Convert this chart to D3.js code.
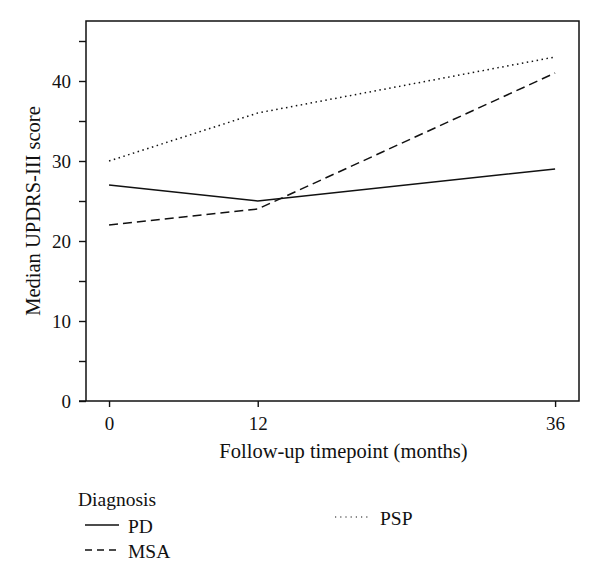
<!DOCTYPE html>
<html><head><meta charset="utf-8">
<script src="https://cdn.jsdelivr.net/npm/d3@7"></script>
<style>body{margin:0;background:#fff}svg{display:block}text{font-family:"Liberation Serif","DejaVu Serif",serif;fill:#111}</style>
</head><body>
<svg id="c" width="600" height="584"></svg>
<script>
const months = [0, 12, 36];
const pd = [27, 25, 29];
const msa = [22, 24, 41];
const psp = [30, 36, 43];
const seriesNames = ["PD", "MSA", "PSP"];
const yTicks = [0, 5, 10, 15, 20, 25, 30, 35, 40, 45];
const yLabels = [0, 10, 20, 30, 40];

const svg = d3.select("#c");
const L = 86, R = 579, T = 21, B = 401;
const x = d3.scaleLinear().domain([-1.86, 37.93]).range([L, R]);
const y = d3.scaleLinear().domain([0, 47.5]).range([B, T]);
const FF = '"Liberation Serif","DejaVu Serif",serif';

// frame
svg.append("rect").attr("x", L).attr("y", T).attr("width", R - L).attr("height", B - T)
  .attr("fill", "none").attr("stroke", "#111").attr("stroke-width", 1.5);

const ya = svg.append("g").attr("transform", `translate(${L},0)`)
  .call(d3.axisLeft(y).tickValues(yTicks).tickSize(7).tickPadding(8)
    .tickFormat(d => yLabels.includes(d) ? d : ""));
const xa = svg.append("g").attr("transform", `translate(0,${B})`)
  .call(d3.axisBottom(x).tickValues(months).tickSize(6).tickPadding(10));
[ya, xa].forEach(g => {
  g.attr("font-family", FF).attr("font-size", 19);
  g.select(".domain").remove();
  g.selectAll("line").attr("stroke", "#111").attr("stroke-width", 1.4);
  g.selectAll("text").style("font-size", "19px").style("font-family", FF).attr("fill", "#111");
});
ya.selectAll("text").attr("dy", "0.34em");
// axis extension line at bottom-left
svg.append("line").attr("x1", L - 7).attr("x2", L).attr("y1", B).attr("y2", B).attr("stroke", "#111").attr("stroke-width", 1.5);

svg.append("text").attr("x", 343.5).attr("y", 458).attr("text-anchor", "middle")
  .style("font-size", "20.5px").text("Follow-up timepoint (months)");
svg.append("text").attr("transform", `translate(40,${(T + B) / 2}) rotate(-90)`).attr("text-anchor", "middle")
  .style("font-size", "20.5px").text("Median UPDRS-III score");

const dashes = ["none", "9,5", "1.5,3.5"];
const data = [pd, msa, psp];
const line = d3.line().x((d, i) => x(months[i])).y(d => y(d));
data.forEach((s, k) => {
  svg.append("path").datum(s).attr("d", line).attr("fill", "none").attr("stroke", "#111")
    .attr("stroke-width", 1.5).attr("stroke-dasharray", dashes[k]);
});

// legend
svg.append("text").attr("x", 78).attr("y", 506).style("font-size", "19.5px").text("Diagnosis");
const legPos = [[85, 525], [85, 550], [335, 517]];
seriesNames.forEach((n, k) => {
  const [lx, ly] = legPos[k];
  svg.append("line").attr("x1", lx).attr("x2", lx + 34).attr("y1", ly).attr("y2", ly)
    .attr("stroke", "#111").attr("stroke-width", k === 2 ? 1.2 : 1.5).attr("stroke-dasharray", k === 2 ? "1.2,4" : (k === 1 ? "7,5" : "none"));
  svg.append("text").attr("x", lx + (k === 2 ? 45 : 43)).attr("y", ly + 7.5).style("font-size", "19.5px").text(n);
});
</script>
</body></html>
